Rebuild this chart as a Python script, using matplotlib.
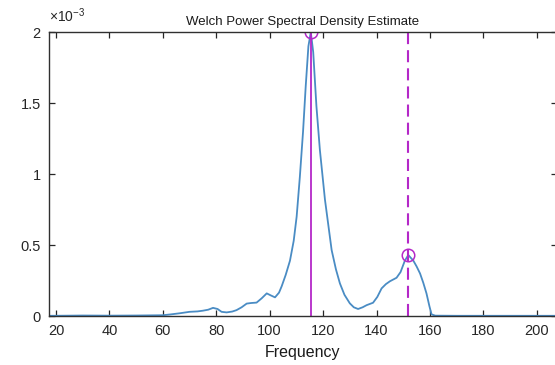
import numpy as np
import matplotlib
matplotlib.use('Agg')
import matplotlib.pyplot as plt

plt.rcParams['font.family'] = ['Liberation Sans', 'DejaVu Sans']
plt.rcParams['mathtext.fontset'] = 'custom'
plt.rcParams['mathtext.rm'] = 'Liberation Sans'
plt.rcParams['mathtext.it'] = 'Liberation Sans'

# Welch PSD curve (values in 1e-3 units)
freq = [18, 25, 30, 40, 50, 60, 63, 66.4, 70, 73, 75, 77, 78.8, 80.5, 82, 83.9,
        86, 87.6, 89.5, 91.4, 93, 95.1, 97, 98.9, 100.5, 102, 103.5, 104.5,
        106, 107.6, 109, 110.1, 111.3, 112.5, 113.5, 114.5, 115.4, 116.3,
        117.5, 118.8, 120.7, 123.2, 124.8, 126.3, 128, 130, 131.5, 133.1,
        134.8, 136.3, 138.7, 140.3, 141.9, 143.5, 145, 147.5, 149, 150.6,
        151.9, 153.8, 155, 156.3, 157.5, 158.7, 159.8, 160.6, 162, 170,
        185, 207.5]
psd = [0.002, 0.003, 0.004, 0.003, 0.004, 0.006, 0.012, 0.02, 0.03, 0.033,
       0.038, 0.045, 0.058, 0.05, 0.03, 0.026, 0.032, 0.042, 0.062, 0.088,
       0.092, 0.095, 0.125, 0.16, 0.145, 0.132, 0.165, 0.21, 0.29, 0.39,
       0.53, 0.70, 0.98, 1.30, 1.62, 1.90, 2.0, 1.86, 1.48, 1.17, 0.82,
       0.465, 0.33, 0.23, 0.15, 0.09, 0.062, 0.05, 0.062, 0.077, 0.094,
       0.135, 0.195, 0.225, 0.245, 0.27, 0.31, 0.39, 0.43, 0.39, 0.35,
       0.30, 0.235, 0.16, 0.07, 0.012, 0.003, 0.002, 0.002, 0.002]
peak_freq = [115.4, 151.9]
peak_psd = [2.0, 0.43]

xticks = [20, 40, 60, 80, 100, 120, 140, 160, 180, 200]
yticks = [0, 0.5, 1, 1.5, 2]
ytick_labels = ['0', '0.5', '1', '1.5', '2']

fig = plt.figure(figsize=(5.55, 3.65), dpi=100)
ax = fig.add_axes([0.0883, 0.134, 0.915, 0.778])

line_col = '#4a8cc4'
mark_col = '#b428c8'

ax.plot(freq, psd, color=line_col, lw=1.3)
ax.plot([peak_freq[0], peak_freq[0]], [0, peak_psd[0]], color=mark_col, lw=1.3)
ax.axvline(peak_freq[1], color=mark_col, lw=1.5, ls=(0, (5.8, 2.9)))
ax.plot(peak_freq, peak_psd, 'o', mfc='none', mec=mark_col, ms=9, mew=1.1)

ax.set_xlim(17.4, 207.5)
ax.set_ylim(0, 2)
ax.set_xticks(xticks)
ax.set_yticks(yticks)
ax.set_yticklabels(ytick_labels)
ax.tick_params(direction='in', length=4, width=0.9, colors='#262626',
               labelsize=10.5, top=True, right=True, pad=6)
for s in ax.spines.values():
    s.set_color('#303030')
    s.set_linewidth(1.0)

ax.set_xlabel('Frequency', fontsize=11.5, color='#1a1a1a', labelpad=5)
ax.set_title('Welch Power Spectral Density Estimate', fontsize=9.5,
             color='#1a1a1a', pad=5)
ax.text(0.0, 1.025, r'$\times10^{-3}$', transform=ax.transAxes,
        fontsize=10, ha='left', va='bottom', color='#262626')

fig.savefig('out.png', dpi=100)
